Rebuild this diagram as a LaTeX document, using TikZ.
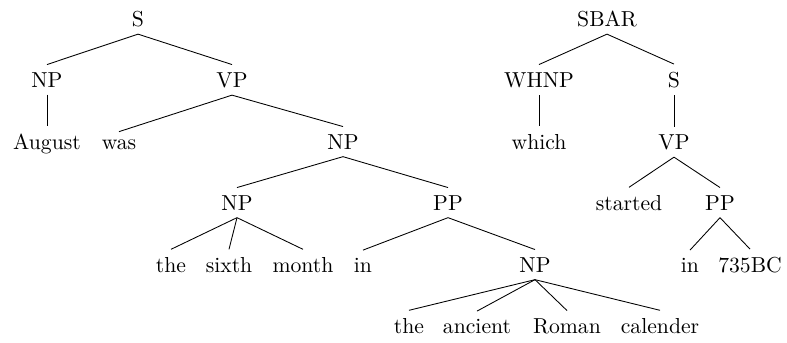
\documentclass[tikz,border=0pt]{standalone}
\begin{document}
\begin{tikzpicture}[x=0.4613pt,y=-0.4613pt,
  lbl/.style={anchor=base,inner sep=3.33pt},
  edge/.style={line width=0.4pt}]
\useasboundingbox (0,0) rectangle (787,342);
% left tree
\node[lbl] (S) at (138,26) {S};
\node[lbl] (NPa) at (47,87) {NP};
\node[lbl] (VPa) at (232,87) {VP};
\node[lbl] (August) at (47,149) {August};
\node[lbl] (was) at (119,149) {was};
\node[lbl] (NPb) at (343,149) {NP};
\node[lbl] (NPc) at (237,210) {NP};
\node[lbl] (PPa) at (448,210) {PP};
\node[lbl] (thea) at (171,272) {the};
\node[lbl] (sixth) at (229,272) {sixth};
\node[lbl] (month) at (303,272) {month};
\node[lbl] (ina) at (363,272) {in};
\node[lbl] (NPd) at (535,272) {NP};
\node[lbl] (theb) at (409,333) {the};
\node[lbl] (ancient) at (477,333) {ancient};
\node[lbl] (Roman) at (567,333) {Roman};
\node[lbl] (calender) at (660,333) {calender};
% right tree
\node[lbl] (SBAR) at (607,26) {SBAR};
\node[lbl] (WHNP) at (539,87) {WHNP};
\node[lbl] (Sb) at (674,87) {S};
\node[lbl] (which) at (539,149) {which};
\node[lbl] (VPb) at (674,149) {VP};
\node[lbl] (started) at (629,210) {started};
\node[lbl] (PPb) at (720,210) {PP};
\node[lbl] (inb) at (690,272) {in};
\node[lbl] (BC) at (750,272) {735BC};
% edges
\foreach \p/\c in {S/NPa,S/VPa,NPa/August,VPa/was,VPa/NPb,NPb/NPc,NPb/PPa,
  NPc/thea,NPc/sixth,NPc/month,PPa/ina,PPa/NPd,NPd/theb,NPd/ancient,NPd/Roman,NPd/calender,
  SBAR/WHNP,SBAR/Sb,WHNP/which,Sb/VPb,VPb/started,VPb/PPb,PPb/inb,PPb/BC}
  \draw[edge] (\p.south) -- (\c.north);
\end{tikzpicture}
\end{document}
